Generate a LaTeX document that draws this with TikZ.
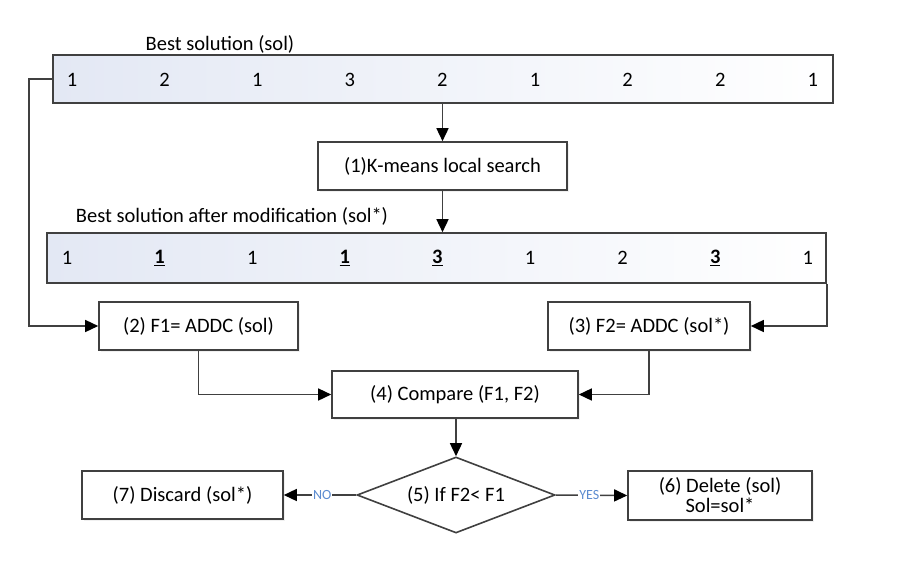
\documentclass[tikz,border=0pt]{standalone}
\usepackage{fontspec}
\setmainfont{Carlito}
\usetikzlibrary{arrows.meta,shapes.geometric,shadows}

\tikzset{
  caja/.style={draw=linea,line width=1.6pt,fill=white,minimum height=48pt,
    drop shadow={opacity=0.12,shadow xshift=1.5pt,shadow yshift=-1.5pt}},
  barra/.style={draw=linea,line width=1.6pt,left color=barfill,right color=white},
  flecha/.style={draw=linea,line width=1.5pt,
    -{Triangle[length=13pt,width=12pt,color=black,fill=black]}},
  resp/.style={fill=white,text=respblue,font=\fontsize{14}{15}\selectfont,inner sep=1pt}
}

\begin{document}
\begin{tikzpicture}[x=1pt,y=-1pt,font=\fontsize{20.5}{23}\selectfont]
        %colores
        \colorlet{linea}{black!75}
        \definecolor{barfill}{HTML}{E3E8F4}
        \definecolor{respblue}{HTML}{5B8BD0}

        \useasboundingbox (0,0) rectangle (907,568);

        % solucion inicial
        \node[barra,minimum width=780pt,minimum height=48pt] (sol) at (443,79) {};
        \node (soltxt) at (220,44) {Best solution (sol)};
        \foreach \i/\v in {0/1,1/2,2/1,3/3,4/2,5/1,6/2,7/2,8/1}
            \node (s\i) at (72+92.6*\i,80) {\v};

        % busqueda local
        \node[caja,minimum width=249pt] (kmeans) at (442.5,166) {(1)K-means local search};

        % solucion modificada
        \node[barra,minimum width=779pt,minimum height=50pt] (solx) at (436.5,258) {};
        \node (solxtxt) at (232,216) {Best solution after modification (sol*)};
        \foreach \i/\v in {0/1,1/\underline{\textbf{1}},2/1,3/\underline{\textbf{1}},4/\underline{\textbf{3}},5/1,6/2,7/\underline{\textbf{3}},8/1}
            \node (t\i) at (67+92.6*\i,258) {\v};

        % evaluacion
        \node[caja,minimum width=199pt] (fone) at (198.5,326) {(2) F1= ADDC (sol)};
        \node[caja,minimum width=202pt] (ftwo) at (649,326) {(3) F2= ADDC (sol*)};
        \node[caja,minimum width=246pt,minimum height=47pt] (comp) at (455,394.5) {(4) Compare (F1, F2)};

        % decision
        \node[diamond,aspect=2.6,draw=linea,line width=1.6pt,fill=white,
              minimum width=198pt,minimum height=76pt,inner sep=0pt] (dec) at (456,495) {(5) If F2< F1};
        \node[caja,minimum width=201pt] (disc) at (182.5,495) {(7) Discard (sol*)};
        \node[caja,minimum width=184pt,minimum height=49pt,align=center] (del) at (720,495.5)
            {(6) Delete (sol)\\[-3pt]Sol=sol*};

        % conectores
        \draw[flecha] (sol.south -| kmeans.north) -- (kmeans.north);
        \draw[flecha] (kmeans.south) -- (kmeans.south |- solx.north);
        \draw[flecha] (sol.west) -- ++(-23,0) |- (fone.west);
        \draw[flecha] (solx.south east) |- (ftwo.east);
        \draw[flecha] (fone.south) |- (comp.west);
        \draw[flecha] (ftwo.south) |- (comp.east);
        \draw[flecha] (comp.south -| dec.north) -- (dec.north);
        \draw[flecha] (dec.west) -- node[resp,pos=0.47] {NO} (disc.east);
        \draw[flecha] (dec.east) -- node[resp,pos=0.47] {YES} (del.west);
    \end{tikzpicture}
\end{document}
